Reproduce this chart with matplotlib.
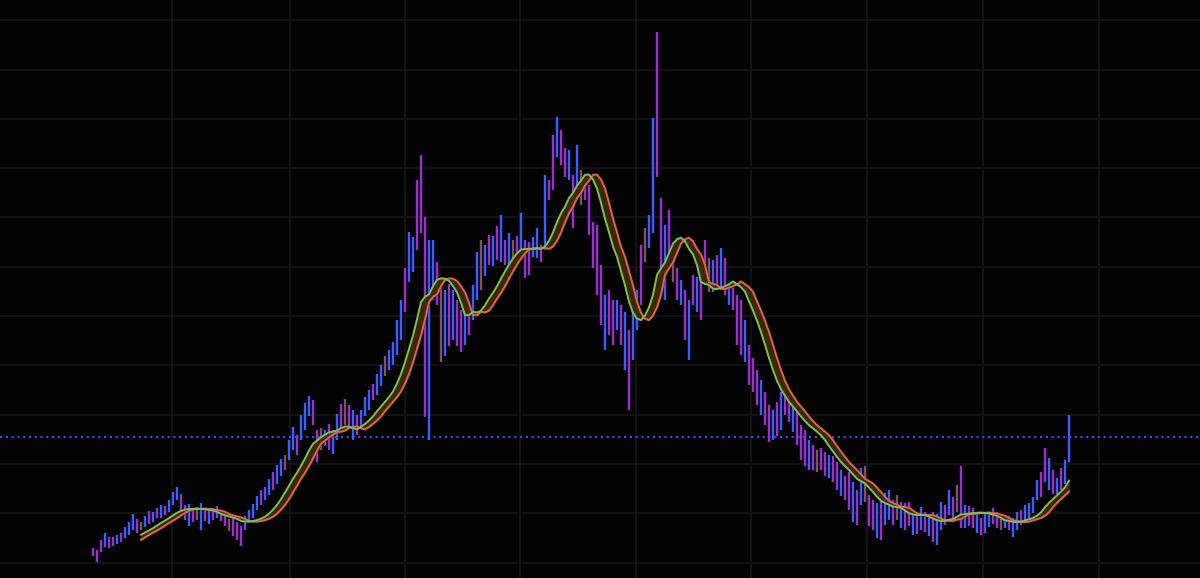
import numpy as np
import pandas as pd
import matplotlib
matplotlib.use('Agg')
import matplotlib.pyplot as plt

# bar highs / lows (arbitrary price units)
high = [30, 28, 38, 45, 41, 41, 43, 45, 51, 56, 64, 59, 56, 62, 67, 66, 70, 73, 72, 78,
        86, 91, 84, 73, 74, 68, 71, 75, 68, 68, 70, 72, 67, 64, 59, 60, 56, 52, 62, 68,
        74, 82, 88, 91, 99, 106, 113, 119, 123, 138, 151, 143, 163, 175, 182, 178, 148, 150, 148, 154,
        148, 164, 174, 179, 173, 168, 163, 168, 181, 188, 194, 204, 213, 222, 228, 236, 258, 278, 310, 346,
        341, 398, 423, 361, 338, 338, 316, 298, 288, 294, 288, 278, 268, 268, 275, 293, 326, 338, 333, 343,
        342, 352, 363, 338, 345, 338, 342, 365, 338, 336, 341, 350, 333, 403, 398, 443, 461, 448, 430, 428,
        403, 433, 408, 400, 393, 356, 353, 313, 283, 288, 278, 278, 273, 266, 248, 273, 288, 333, 350, 363,
        460, 546, 380, 353, 368, 323, 310, 298, 288, 278, 303, 301, 313, 338, 320, 318, 323, 330, 320, 295,
        290, 283, 278, 258, 233, 220, 208, 198, 186, 173, 168, 176, 186, 193, 183, 176, 166, 153, 148, 138,
        133, 128, 130, 126, 123, 122, 116, 108, 102, 106, 96, 88, 110, 112, 83, 78, 75, 78, 85, 88,
        78, 83, 76, 75, 76, 66, 66, 71, 66, 64, 66, 64, 76, 73, 88, 81, 93, 112, 73, 72,
        70, 63, 60, 66, 66, 70, 66, 63, 63, 62, 60, 66, 68, 73, 75, 81, 98, 106, 130, 120,
        108, 100, 110, 118, 163]
low = [22, 16, 26, 31, 30, 32, 34, 36, 40, 43, 48, 45, 48, 51, 54, 56, 60, 60, 63, 66,
       73, 78, 63, 58, 52, 56, 58, 48, 57, 54, 58, 60, 57, 52, 47, 42, 38, 32, 48, 55,
       60, 68, 73, 78, 83, 88, 94, 102, 108, 118, 128, 123, 138, 148, 162, 153, 116, 128, 132, 128,
       124, 138, 148, 153, 152, 138, 143, 152, 162, 168, 178, 183, 192, 202, 208, 213, 223, 238, 266, 296,
       306, 328, 345, 161, 138, 278, 273, 216, 222, 232, 238, 232, 226, 233, 243, 258, 278, 288, 302, 313,
       312, 318, 316, 313, 305, 316, 322, 321, 300, 303, 321, 320, 316, 328, 378, 388, 421, 413, 401, 398,
       350, 388, 373, 378, 343, 310, 283, 253, 228, 243, 233, 248, 233, 208, 168, 218, 248, 273, 316, 330,
       345, 401, 296, 278, 318, 296, 278, 273, 238, 218, 273, 266, 258, 303, 286, 286, 288, 288, 283, 273,
       268, 233, 223, 216, 193, 186, 173, 163, 153, 136, 138, 142, 148, 163, 156, 146, 133, 118, 112, 108,
       108, 106, 108, 102, 100, 96, 88, 82, 78, 68, 56, 53, 73, 76, 52, 48, 40, 38, 53, 58,
       53, 58, 50, 48, 52, 43, 44, 48, 46, 42, 36, 33, 48, 53, 63, 60, 66, 50, 50, 52,
       50, 45, 43, 45, 51, 54, 50, 48, 50, 48, 41, 48, 53, 56, 60, 65, 78, 81, 96, 88,
       84, 84, 88, 94, 116]
# bar direction: u = up, d = down, n = flat
direction = ('dddudduduu' 'udnudududu' 'uuddudnudu' 'duddnddduu' 'uuduuduunu'
             'uduuuddnud' 'uudnduduuu' 'duunuuuudu' 'uddduudnud' 'udduduunud'
             'ududundudd' 'uududduddu' 'dundddddud' 'dududuudnu' 'uddudndudu'
             'duddnududu' 'dddudddudd' 'ududdudddu' 'dndduddudd' 'udundduduu'
             'dnuddududu' 'duududndud' 'duduuddnud' 'uuduuuuddu' 'duduu')
ref_level = 141.2

hi = np.array(high, dtype=float)
lo = np.array(low, dtype=float)
mid = pd.Series((hi + lo) / 2)
x = np.arange(len(hi))

# moving averages drawn over the bars
fast = mid.rolling(11).mean()
slow = mid.rolling(11).mean().shift(2)
fast[:12] = np.nan

palette = {'u': '#3d5eff', 'd': '#9b30d2', 'n': '#7b5566'}
cols = [palette[c] for c in direction]

fig = plt.figure(figsize=(12, 5.78), dpi=100, facecolor='#030303')
ax = fig.add_axes([0, 0, 1, 1])
ax.set_facecolor('#030303')

ax.set_xlim(-23.25, 276.75)
ax.set_ylim(0, 578)
ax.set_yticks(557.7 - 49.3 * np.arange(12))
ax.set_xticks([19.75, 49.25, 78, 106.75, 135.75, 164.5, 193.5, 222.5, 251.5])
ax.grid(True, color='#171717', linewidth=1.1)
ax.tick_params(length=0, labelleft=False, labelbottom=False)
for s in ax.spines.values():
    s.set_visible(False)
ax.set_axisbelow(True)

ax.axhline(ref_level, color='#3b5bff', linewidth=1.3, dashes=(1.2, 2.0), zorder=2)

ax.vlines(x, lo, hi, colors=cols, linewidth=1.7, zorder=3)

ax.fill_between(x, fast, slow, color='#3d2b04', alpha=0.95, zorder=4)
ax.plot(x, slow, color='#e8604c', linewidth=1.4, zorder=5)
ax.plot(x, fast, color='#7cc05a', linewidth=1.4, zorder=6)

fig.savefig('out.png', dpi=100, facecolor=fig.get_facecolor())
